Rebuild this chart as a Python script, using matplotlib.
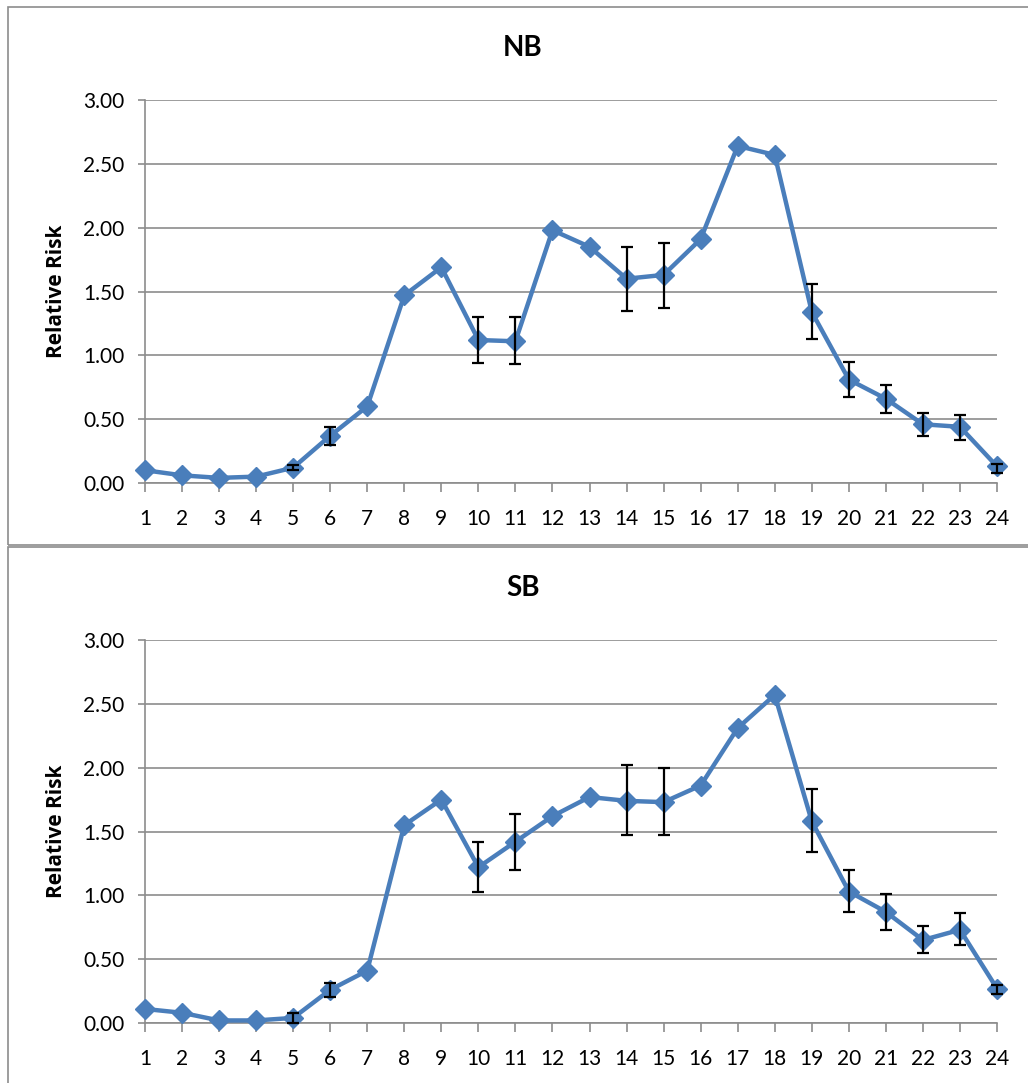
import numpy as np
import matplotlib.pyplot as plt
from matplotlib.patches import Rectangle

hours = list(range(1, 25))

# NB: relative risk with lower / upper limits
nb_rr = [0.10, 0.06, 0.04, 0.05, 0.12, 0.37, 0.60, 1.47, 1.69, 1.12, 1.11, 1.98,
         1.85, 1.60, 1.63, 1.91, 2.64, 2.57, 1.34, 0.81, 0.66, 0.46, 0.44, 0.13]
nb_lo = [0.10, 0.06, 0.04, 0.05, 0.10, 0.30, 0.60, 1.47, 1.69, 0.94, 0.93, 1.98,
         1.85, 1.35, 1.37, 1.91, 2.64, 2.57, 1.13, 0.67, 0.55, 0.37, 0.34, 0.08]
nb_hi = [0.10, 0.06, 0.04, 0.05, 0.14, 0.44, 0.60, 1.47, 1.69, 1.30, 1.30, 1.98,
         1.85, 1.85, 1.88, 1.91, 2.64, 2.57, 1.56, 0.95, 0.77, 0.55, 0.53, 0.15]

# SB
sb_rr = [0.11, 0.08, 0.02, 0.02, 0.04, 0.26, 0.41, 1.55, 1.75, 1.22, 1.42, 1.62,
         1.77, 1.74, 1.73, 1.86, 2.31, 2.57, 1.58, 1.03, 0.87, 0.65, 0.73, 0.27]
sb_lo = [0.11, 0.08, 0.02, 0.02, 0.00, 0.20, 0.41, 1.55, 1.75, 1.03, 1.20, 1.62,
         1.77, 1.47, 1.47, 1.86, 2.31, 2.57, 1.34, 0.87, 0.73, 0.55, 0.61, 0.23]
sb_hi = [0.11, 0.08, 0.02, 0.02, 0.08, 0.31, 0.41, 1.55, 1.75, 1.42, 1.64, 1.62,
         1.77, 2.02, 2.00, 1.86, 2.31, 2.57, 1.83, 1.20, 1.01, 0.76, 0.86, 0.30]

yticks = [0.0, 0.5, 1.0, 1.5, 2.0, 2.5, 3.0]

plt.rcParams['font.family'] = ['Lato', 'DejaVu Sans']

W, H = 1028, 1083
fig = plt.figure(figsize=(W / 100, H / 100), dpi=100)

# chart area frames
fig.patches.append(Rectangle((8 / W, 1 - 545 / H), 1.2, (545 - 7) / H,
                             transform=fig.transFigure, fill=False,
                             edgecolor='#8c8c8c', lw=1.2))
fig.patches.append(Rectangle((8 / W, -0.1), 1.2, 0.1 + (H - 547) / H,
                             transform=fig.transFigure, fill=False,
                             edgecolor='#8c8c8c', lw=1.2))

blue = '#4A7EBB'
panels = [('NB', nb_rr, nb_lo, nb_hi, 100), ('SB', sb_rr, sb_lo, sb_hi, 640)]

for name, rr, lo, hi, top in panels:
    ax = fig.add_axes([145 / W, 1 - (top + 383) / H, 852 / W, 383 / H])
    x = np.array(hours)
    rr = np.array(rr)
    lo = np.array(lo)
    hi = np.array(hi)
    ax.plot(x, rr, color=blue, lw=3.2, marker='D', markersize=10.5,
            markerfacecolor=blue, markeredgecolor=blue, zorder=3)
    m = (hi - lo) > 0
    ax.errorbar(x[m], rr[m], yerr=[rr[m] - lo[m], hi[m] - rr[m]], fmt='none',
                ecolor='black', elinewidth=1.6, capsize=4.5, capthick=1.6,
                zorder=4)
    ax.set_xlim(1, 24)
    ax.set_ylim(0, 3)
    ax.set_xticks(hours)
    ax.set_yticks(yticks)
    ax.set_yticklabels([f'{v:.2f}' for v in yticks])
    ax.grid(axis='y', color='#8c8c8c', lw=1.2)
    ax.set_axisbelow(True)
    for s in ['top', 'right']:
        ax.spines[s].set_visible(False)
    ax.spines['left'].set_color('#8c8c8c')
    ax.spines['bottom'].set_color('#8c8c8c')
    ax.spines['left'].set_linewidth(1.2)
    ax.spines['bottom'].set_linewidth(1.2)
    ax.tick_params(axis='both', colors='#8c8c8c', labelcolor='black',
                   labelsize=15, width=1.2)
    ax.tick_params(axis='x', length=6.5, pad=12)
    ax.tick_params(axis='y', length=5, pad=10)
    ax.set_ylabel('Relative Risk', fontsize=15, fontweight='bold',
                  family=['Open Sans', 'DejaVu Sans'])
    ax.yaxis.set_label_coords(-78 / 852, 0.5)
    fig.text(523 / W, 1 - (top - 52) / H, name, fontsize=20, fontweight='bold',
             ha='center', va='center')
    for c in ax.get_children():
        c.set_clip_on(False)

fig.savefig('out.png', dpi=100)
